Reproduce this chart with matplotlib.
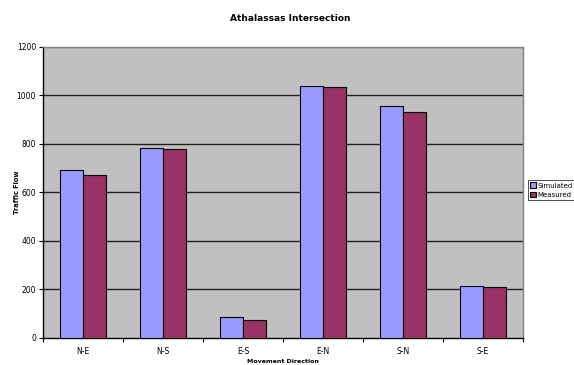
import matplotlib
matplotlib.use("Agg")
import matplotlib.pyplot as plt
import numpy as np

# traffic counts per movement direction
directions = ["N-E", "N-S", "E-S", "E-N", "S-N", "S-E"]
simulated = [692, 785, 84, 1040, 955, 215]
measured = [670, 780, 74, 1035, 930, 210]

fig = plt.figure(figsize=(5.74, 3.65), dpi=100)
ax = fig.add_axes([43 / 574, 1 - 337.7 / 365, 480 / 574, 290.7 / 365])
ax.set_facecolor("#C0C0C0")

x = np.arange(len(directions))
w = 0.285
ax.bar(x - w / 2, simulated, width=w, color="#9999FF", edgecolor="black", linewidth=0.8, label="Simulated", zorder=3)
ax.bar(x + w / 2, measured, width=w, color="#993366", edgecolor="black", linewidth=0.8, label="Measured", zorder=3)

ax.set_xlim(-0.5, len(directions) - 0.5)
ax.set_ylim(0, 1200)
ax.set_yticks(np.arange(0, 1201, 200))
for yv in range(200, 1201, 200):
    ax.axhline(yv, color="#202020" if yv < 1200 else "#808080", linewidth=1.0, zorder=1)

# category labels in the middle, tick marks on the boundaries
ax.set_xticks(x)
ax.set_xticklabels(directions, fontsize=5.5)
ax.tick_params(axis="x", length=0, pad=7)
ax.set_xticks(np.arange(-0.5, len(directions)), minor=True)
ax.tick_params(axis="x", which="minor", length=3, width=0.8, direction="out")
ax.tick_params(axis="y", labelsize=5.5, length=3, width=0.8, direction="out", pad=2)

for side in ["top", "right"]:
    ax.spines[side].set_color("#808080")
    ax.spines[side].set_linewidth(1.0)
ax.spines["left"].set_linewidth(1.0)
ax.spines["bottom"].set_linewidth(1.0)

ax.set_ylabel("Traffic Flow", fontsize=4.8, fontweight="bold")
ax.yaxis.set_label_coords(-23 / 480, 0.5)
ax.set_xlabel("Movement Direction", fontsize=4.5, fontweight="bold")
ax.xaxis.set_label_coords(0.5, -21 / 290.7)
fig.suptitle("Athalassas Intersection", fontsize=6.5, fontweight="bold", x=0.505, y=0.962)

leg = ax.legend(loc="upper left", bbox_to_anchor=(528 / 574, 1 - 180 / 365), bbox_transform=fig.transFigure,
                fontsize=5.0, frameon=True, fancybox=False, edgecolor="black",
                handlelength=0.8, handleheight=0.8, handletextpad=0.2, borderpad=0.35,
                labelspacing=0.5, borderaxespad=0)
leg.get_frame().set_linewidth(0.6)

fig.savefig("out.png", dpi=100)
